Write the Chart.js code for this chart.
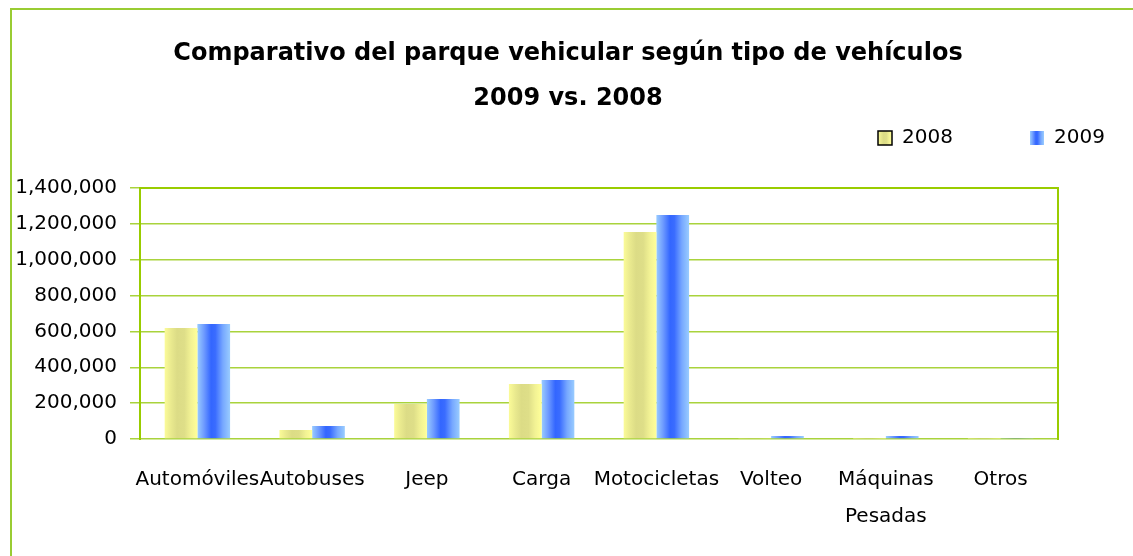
<!DOCTYPE html>
<html><head><meta charset="utf-8">
<script src="https://cdn.jsdelivr.net/npm/chart.js@4.4.0/dist/chart.umd.min.js"></script>
<style>
html,body{margin:0;padding:0;background:#fff;}
#wrap{position:relative;width:1133px;height:556px;overflow:hidden;}
#frame{position:absolute;left:10px;top:8px;width:1200px;height:600px;border-left:2px solid #99cc33;border-top:2px solid #99cc33;box-sizing:border-box;}
canvas{position:absolute;left:0;top:0;}
</style></head><body>
<div id="wrap"><div id="frame"></div><canvas id="c" width="1133" height="556"></canvas></div>
<script>
const categories = ['Automóviles','Autobuses','Jeep','Carga','Motocicletas','Volteo',['Máquinas','Pesadas'],'Otros'];
const seriesNames = ['2008','2009'];
const values2008 = [619000, 50000, 195000, 307000, 1155000, 5000, 2000, 1000];
const values2009 = [641000, 73000, 223000, 329000, 1249000, 17000, 17000, 6000];
const yTicks = [0, 200000, 400000, 600000, 800000, 1000000, 1200000, 1400000];
const titleLines = ['Comparativo del parque vehicular según tipo de vehículos', '2009 vs. 2008'];

const FONT = "'DejaVu Sans', sans-serif";
const GREEN = '#99cc00';
const GRID = '#a9d33c';
const stops = [
  [[0,'#fbfb98'],[0.2,'#e9e98e'],[0.38,'#dcdc86'],[0.6,'#dede88'],[0.8,'#f2f294'],[1,'#ffff99']],
  [[0,'#99ccff'],[0.2,'#6f9cff'],[0.42,'#3366ff'],[0.55,'#3a6cff'],[0.78,'#77a8ff'],[1,'#99ccff']]
];
function makeGrad(ctx, x0, x1, s){
  const g = ctx.createLinearGradient(x0,0,x1,0);
  s.forEach(([o,c])=>g.addColorStop(o,c));
  return g;
}

const widenYLabels = {
  id:'widenYLabels',
  afterLayout(chart){ chart.scales.y.left = 0; }
};

const gradientBars = {
  id:'gradientBars',
  beforeDatasetsDraw(chart){
    const ctx = chart.ctx, a = chart.chartArea;
    chart.data.datasets.forEach((ds,i)=>{
      const meta = chart.getDatasetMeta(i);
      meta.data.forEach(el=>{
        const w = el.width;
        el.options = Object.assign({}, el.options, {backgroundColor: makeGrad(ctx, el.x-w/2, el.x+w/2, stops[i])});
      });
    });
    ctx.save();
    ctx.strokeStyle = GREEN;
    ctx.lineWidth = 2;
    ctx.beginPath();
    ctx.moveTo(a.left, a.bottom+1);
    ctx.lineTo(a.left, a.top);
    ctx.lineTo(a.right, a.top);
    ctx.lineTo(a.right, a.bottom+1);
    ctx.stroke();
    ctx.restore();
  }
};

const customLegend = {
  id:'customLegend',
  afterDraw(chart){
    const ctx = chart.ctx, a = chart.chartArea;
    const y = 131;
    const items = [{x:a.right-180, border:true},{x:a.right-28, border:false}];
    ctx.save();
    chart.data.datasets.forEach((ds,i)=>{
      const it = items[i];
      ctx.fillStyle = makeGrad(ctx, it.x, it.x+14, stops[i]);
      ctx.fillRect(it.x, y, 14, 14);
      if(it.border){ ctx.strokeStyle='#000'; ctx.lineWidth=1.5; ctx.strokeRect(it.x, y, 14, 14); }
      ctx.fillStyle = '#000';
      ctx.font = "20px " + FONT;
      ctx.textBaseline = 'middle';
      ctx.textAlign = 'left';
      ctx.fillText(ds.label, it.x+24, y+7);
    });
    ctx.restore();
  }
};

new Chart(document.getElementById('c'), {
  type:'bar',
  data:{
    labels: categories,
    datasets:[
      {label: seriesNames[0], data: values2008, backgroundColor:'#e8e890', categoryPercentage:0.57, barPercentage:1.0},
      {label: seriesNames[1], data: values2009, backgroundColor:'#5b8cff', categoryPercentage:0.57, barPercentage:1.0}
    ]
  },
  options:{
    responsive:false,
    animation:false,
    layout:{padding:{left:78, right:75, top:0, bottom:0}},
    plugins:{
      legend:{display:false},
      tooltip:{enabled:false},
      title:{
        display:true,
        text:titleLines,
        color:'#000',
        font:{family:FONT, size:24, weight:'bold', lineHeight:45/24},
        padding:{top:31, bottom:67}
      }
    },
    scales:{
      x:{
        afterFit: s => { s.height = 117; },
        grid:{display:false, drawTicks:false},
        border:{display:false},
        ticks:{color:'#000', autoSkip:false, maxRotation:0, padding:22, font:{family:FONT, size:20, lineHeight:1.85}}
      },
      y:{
        min:0, max:1400000,
        afterFit: s => { s.width = 62; },
        afterBuildTicks: s => { s.ticks = yTicks.map(v=>({value:v})); },
        grid:{color:GRID, lineWidth:1.5, drawTicks:true, tickLength:10, tickColor:GRID},
        border:{display:false},
        ticks:{color:'#000', padding:13, font:{family:FONT, size:20},
          callback: v => Number(v).toLocaleString('en-US')}
      }
    }
  },
  plugins:[widenYLabels, gradientBars, customLegend]
});
</script>
</body></html>
